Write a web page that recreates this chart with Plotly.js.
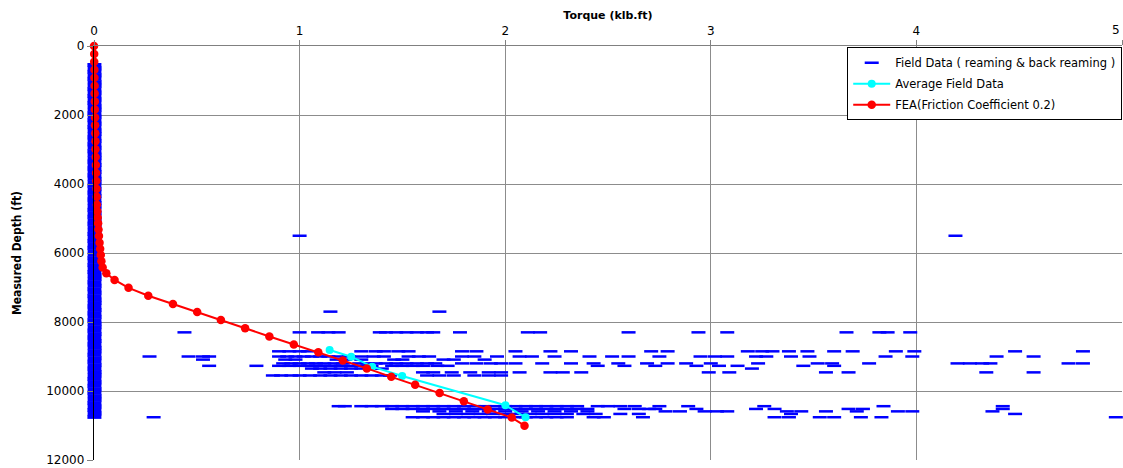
<!DOCTYPE html>
<html>
<head>
<meta charset="utf-8">
<script src="https://cdn.plot.ly/plotly-3.0.1.min.js"></script>
<style>
html,body{margin:0;padding:0;background:#fff;}
#chart{width:1123px;height:468px;}
</style>
</head>
<body>
<div id="chart"></div>
<script>
// ---- FEA (Friction Coefficient 0.2) ----
const feaDepth = [0,230,460,690,920,1150,1380,1610,1840,2070,2300,2530,2760,2990,3220,3450,3680,3910,4140,4370,4600,4790,4970,5140,5320,5510,5700,5880,6060,6240,6420,6590,6780,7010,7240,7480,7710,7945,8180,8420,8650,8880,9115,9345,9590,9820,10060,10295,10535,10770,11005];
const feaTorque = [0,0.001,0.001,0.002,0.002,0.003,0.003,0.004,0.004,0.005,0.005,0.006,0.007,0.007,0.008,0.009,0.010,0.011,0.012,0.013,0.014,0.016,0.018,0.020,0.022,0.024,0.027,0.030,0.033,0.036,0.042,0.060,0.100,0.168,0.264,0.384,0.502,0.617,0.735,0.853,0.972,1.091,1.210,1.327,1.446,1.562,1.681,1.799,1.915,2.032,2.094];

// ---- Average Field Data ----
const avgDepth = [8812,9005,9295,9565,10414,10762];
const avgTorque = [1.146,1.251,1.353,1.499,2.001,2.099];

// ---- Field Data (reaming & back reaming): near-zero column ----
const colDepth = [550,650,750,850,950,1050,1150,1250,1350,1450,1550,1650,1750,1850,1950,2050,2150,2250,2350,2450,2550,2650,2750,2850,2950,3050,3150,3250,3350,3450,3550,3650,3750,3850,3950,4050,4150,4250,4350,4450,4550,4650,4750,4850,4950,5050,5150,5250,5350,5450,5550,5650,5750,5850,5950,6050,6150,6250,6350,6450,6550,6650,6750,6850,6950,7050,7150,7250,7350,7450,7550,7650,7750,7850,7950,8050,8150,8250,8350,8450,8550,8650,8750,8850,8950,9050,9150,9250,9350,9450,9550,9650,9750,9850,9950,10050,10150,10250,10350,10450,10550,10650,10750];
const colTorque = [0.002,0.003,0.002,0.003,0.002,0.003,0.003,0.002,0.003,0.002,0.003,0.002,0.003,0.003,0.002,0.003,0.002,0.003,0.002,0.003,0.003,0.002,0.003,0.002,0.003,0.002,0.003,0.003,0.002,0.003,0.002,0.003,0.002,0.003,0.003,0.002,0.003,0.002,0.003,0.002,0.003,0.003,0.002,0.003,0.002,0.003,0.002,0.003,0.003,0.002,0.003,0.002,0.003,0.002,0.003,0.003,0.002,0.003,0.002,0.003,0.002,0.003,0.003,0.002,0.003,0.002,0.003,0.002,0.003,0.003,0.002,0.003,0.002,0.003,0.002,0.003,0.003,0.002,0.003,0.002,0.003,0.002,0.003,0.003,0.002,0.003,0.002,0.003,0.002,0.003,0.003,0.002,0.003,0.002,0.003,0.002,0.003,0.003,0.002,0.003,0.002,0.003,0.002];

// ---- Field Data: scattered rows (torque values per depth row) ----
const r5500 = [1.0,4.19];
const r7700 = [1.15,1.68];
const r8300 = [0.44,1.0,1.09,1.14,1.19,1.39,1.42,1.47,1.52,1.57,1.62,1.65,1.78,2.11,2.17,2.6,2.94,3.08,3.66,3.82,3.86,3.97];
const r8850 = [0.9,0.95,1.0,1.04,1.3,1.37,1.41,1.48,1.53,1.79,1.86,2.05,2.22,2.32,2.71,2.79,3.18,3.25,3.3,3.38,3.47,3.6,3.69,3.9,3.99,4.48,4.81];
const r9000 = [0.27,0.46,0.53,0.56,0.9,0.94,0.98,1.02,1.06,1.1,1.14,1.19,1.24,1.3,1.36,1.41,1.53,1.58,1.63,1.79,1.85,1.96,2.07,2.13,2.24,2.41,2.52,2.6,2.75,2.95,3.02,3.08,3.22,3.27,3.39,3.48,3.85,3.98,4.39,4.57];
const r9090 = [0.53,0.93,0.98,1.18,1.22,1.3,1.46,1.5,1.7,1.75,1.9];
const r9200 = [0.92,0.96,1.0,1.04,1.08,1.12,1.17,1.21,1.29,1.33,1.37,1.42,1.47,1.52,1.57,1.62,1.66,1.79,1.86,1.93,1.98,2.05,2.18,2.32,2.43,2.55,2.69,2.79,2.88,3.0,3.23,3.52,3.59,3.77,4.2,4.26,4.32,4.36,4.74,4.81];
const r9270 = [0.56,0.79,0.9,0.95,1.0,1.05,1.1,1.15,1.2,1.25,1.3,1.35,1.45,1.5,1.55,1.6,1.67,1.72,2.45,2.58,2.73,2.93,3.04,3.13,3.45,3.6];
const r9350 = [1.06,1.1,1.15,1.2,1.25,1.3,1.35,1.4,3.2];
const r9460 = [1.12,1.17,1.23,1.6,1.65,1.74,1.83,1.92,1.98,2.07,2.22,2.28,2.37,2.99,3.09,3.56,3.67,4.34,4.57];
const r9550 = [0.87,0.91,0.96,1.0,1.05,1.1,1.15,1.2,1.25,1.3,1.35,1.4,1.44,1.62,1.68,1.75,1.85,1.92,1.98];
const r10440 = [1.19,1.22,1.3,1.35,1.4,1.45,1.5,1.55,1.6,1.65,1.7,1.75,1.8,1.85,1.9,1.95,2.0,2.05,2.1,2.15,2.2,2.25,2.3,2.35,2.45,2.5,2.56,2.63,2.75,2.89,3.26,3.84,4.42];
const r10520 = [1.45,1.5,1.55,1.6,1.65,1.7,1.75,1.8,1.85,1.9,1.95,2.0,2.05,2.1,2.15,2.2,2.25,2.3,2.35,2.4,2.58,2.65,2.7,2.73,2.93,3.22,3.31,3.67,3.74,4.42];
const r10590 = [1.6,1.68,1.76,1.84,1.92,2.0,2.08,2.16,2.24,2.32,2.4,2.78,2.85,2.97,3.03,3.08,3.37,3.44,3.56,3.71,3.91,3.98,4.37];
const r10665 = [1.7,1.76,1.82,1.88,1.94,2.0,2.06,2.12,2.18,2.24,2.3,2.38,2.44,2.56,2.65,3.39,4.48];
const r10760 = [0.29,1.55,1.6,1.65,1.7,1.75,1.8,1.85,1.9,1.95,2.0,2.05,2.1,2.15,2.2,2.25,2.3,2.43,2.48,2.67,3.31,3.38,3.53,3.6,3.73,3.83,4.97];

const fieldRowDepths = [5500,7700,8300,8850,9000,9090,9200,9270,9350,9460,9550,10440,10520,10590,10665,10760];
const fieldRowTorques = [r5500,r7700,r8300,r8850,r9000,r9090,r9200,r9270,r9350,r9460,r9550,r10440,r10520,r10590,r10665,r10760];

const xTickVals = [0,1,2,3,4,5];
const xTickText = ['0','1','2','3','4',''];   // last label drawn right-aligned below so it stays inside the page
const xLastLabel = '5';
const yTickVals = [0,2000,4000,6000,8000,10000,12000];

const fx = [], fy = [];
fieldRowDepths.forEach((d, i) => fieldRowTorques[i].forEach(t => { fx.push(t); fy.push(d); }));

const BLUE = '#0000FF';
const traces = [
  {
    x: fx, y: fy, type: 'scatter', mode: 'markers',
    name: 'Field Data ( reaming & back reaming )',
    legendgroup: 'a',
    cliponaxis: false,
    marker: {symbol: 'line-ew', size: 10, color: BLUE, line: {color: BLUE, width: 2.5}}
  },
  {
    x: colTorque, y: colDepth, type: 'scatter', mode: 'markers',
    name: 'Field Data ( reaming & back reaming )',
    legendgroup: 'a', showlegend: false,
    cliponaxis: false,
    marker: {symbol: 'line-ew', size: 10, color: BLUE, line: {color: BLUE, width: 4}}
  },
  {
    x: avgTorque, y: avgDepth, type: 'scatter', mode: 'lines+markers',
    name: 'Average Field Data',
    legendgroup: 'b',
    cliponaxis: false,
    line: {color: '#00FFFF', width: 2},
    marker: {symbol: 'circle', size: 8, color: '#00FFFF'}
  },
  {
    x: feaTorque, y: feaDepth, type: 'scatter', mode: 'lines+markers',
    name: 'FEA(Friction Coefficient 0.2)',
    legendgroup: 'c',
    cliponaxis: false,
    line: {color: '#FF0000', width: 2},
    marker: {symbol: 'circle', size: 8.5, color: '#FF0000'}
  }
];

const layout = {
  width: 1123, height: 468,
  margin: {l: 94, r: 1, t: 46, b: 8},
  paper_bgcolor: '#ffffff',
  plot_bgcolor: '#ffffff',
  showlegend: true,
  font: {family: 'DejaVu Sans, Arial, sans-serif', color: '#000'},
  xaxis: {
    side: 'top', range: [0, 5], tickvals: xTickVals, ticktext: xTickText,
    showgrid: true, gridcolor: '#8c8c8c', gridwidth: 1, zeroline: false,
    showline: true, linecolor: '#808080', linewidth: 1,
    ticks: 'outside', ticklen: 5, tickcolor: '#808080',
    tickfont: {family: 'DejaVu Sans, Arial, sans-serif', size: 12, color: '#000'},
    title: {text: 'Torque (klb.ft)', font: {family: 'DejaVu Sans, Arial, sans-serif', size: 11, color: '#000', weight: 'bold'}, standoff: 2}
  },
  yaxis: {
    range: [12000, 0], tickvals: yTickVals, ticktext: yTickVals.map(String),
    showgrid: true, gridcolor: '#8c8c8c', gridwidth: 1, zeroline: false,
    showline: true, linecolor: '#000', linewidth: 1.2,
    ticks: 'outside', ticklen: 6, tickcolor: '#808080',
    tickfont: {family: 'DejaVu Sans, Arial, sans-serif', size: 12, color: '#000'},
    title: {text: 'Measured Depth (ft)', font: {family: 'Liberation Sans Narrow, DejaVu Sans Condensed, Arial Narrow, sans-serif', size: 12, color: '#000', weight: 'bold'}, standoff: 22}
  },
  annotations: [{
    x: xTickVals[5], xref: 'x', y: 1, yref: 'paper',
    text: xLastLabel, showarrow: false,
    xanchor: 'right', yanchor: 'bottom', yshift: 7, xshift: 0,
    font: {family: 'DejaVu Sans, Arial, sans-serif', size: 12, color: '#000'}
  }],
  legend: {
    x: 0.7327, y: 0.997, xanchor: 'left', yanchor: 'top',
    bgcolor: '#ffffff', bordercolor: '#000', borderwidth: 1,
    font: {family: 'DejaVu Sans, Arial, sans-serif', size: 11.5, color: '#000'},
    tracegroupgap: 2, itemwidth: 37
  }
};

Plotly.newPlot('chart', traces, layout, {displayModeBar: false, staticPlot: true});
</script>
</body>
</html>
